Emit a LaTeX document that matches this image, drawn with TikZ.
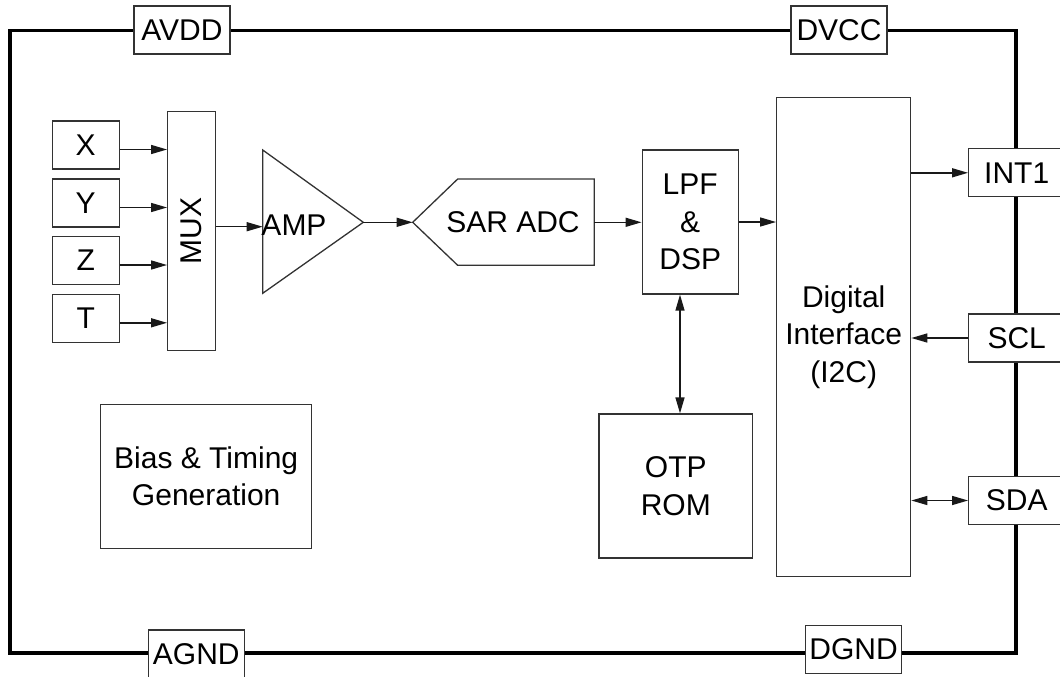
\documentclass[tikz,border=0pt]{standalone}
\usepackage{fontspec}
\setmainfont{Liberation Sans}
\usetikzlibrary{arrows.meta,calc}
\begin{document}
\begin{tikzpicture}[x=1pt,y=-1pt,
  box/.style={draw=black!80, line width=1.3pt, fill=white, inner sep=0pt,
    align=center, font=\fontsize{30}{37.5}\selectfont},
  lbl/.style={inner sep=0pt, align=center, font=\fontsize{30}{37.5}\selectfont},
  shp/.style={draw=black!80, line width=1.3pt, fill=white},
  tip/.style={Triangle[length=16pt,width=9pt]},
  arr/.style={draw=black!90, line width=1.4pt, -{Triangle[length=16pt,width=9pt]}},
  darr/.style={draw=black!90, line width=1.4pt, {Triangle[length=16pt,width=9pt]}-{Triangle[length=16pt,width=9pt]}},
  pin/.style={box, minimum width=96pt, minimum height=48pt}]
\useasboundingbox (0,0) rectangle (1060,677);
\clip (0,0) rectangle (1060,677);
% outer border
\draw[line width=3.2pt, line join=miter] (10,30.5) rectangle (1016,653);
% pins
\node[pin] (AVDD) at (182,30) {AVDD};
\node[pin] (DVCC) at (839,30) {DVCC};
\node[pin] (AGND) at (196.3,654) {AGND};
\node[pin] (DGND) at (853.5,649.5) {DGND};
\node[pin] (INT1) at (1016.7,172.8) {INT1};
\node[pin] (SCL) at (1016.7,338) {SCL};
\node[pin] (SDA) at (1016.7,500.5) {SDA};
% inputs
\node[box, minimum width=67pt, minimum height=48pt] (X) at (85.7,145) {X};
\node[box, minimum width=67pt, minimum height=48pt] (Y) at (85.7,203) {Y};
\node[box, minimum width=67pt, minimum height=48pt] (Z) at (85.7,260.5) {Z};
\node[box, minimum width=67pt, minimum height=48pt] (T) at (85.7,318.3) {T};
\node[box, minimum width=48pt, minimum height=239pt] (MUX) at (191.7,231.2) {};
\node[lbl, rotate=90] (muxt) at (MUX.center) {MUX};
% amplifier
\draw[shp] (262.7,150) -- (262.7,293.3) -- (363.3,222.3) -- cycle;
\node[lbl] (amp) at (294,225) {AMP};
\coordinate (ampL) at (262.7,226.7);
\coordinate (ampT) at (363.3,222.3);
% SAR ADC
\coordinate (sarT) at (412.7,222.3);
\coordinate (sarR) at (594.3,222.3);
\draw[shp] (sarT) -- (457.7,179) -- (594.3,179) -- (594.3,265.3) -- (457.7,265.3) -- cycle;
\node[lbl] (sar) at (513,222.3) {SAR ADC};
% blocks
\node[box, minimum width=96pt, minimum height=144pt] (LPF) at (690.2,222) {LPF\\\&\\DSP};
\node[box, minimum width=134pt, minimum height=479pt] (DI) at (843.7,337.1) {Digital\\Interface\\(I2C)};
\node[box, minimum width=153.7pt, minimum height=144pt] (OTP) at (675.8,486) {OTP\\ROM};
\node[box, minimum width=211pt, minimum height=144pt] (BIAS) at (206.2,476.3) {Bias \& Timing\\Generation};
% connectors
\foreach \n in {X,Y,Z,T}
  \draw[arr] ([yshift=-4.5pt]\n.east) -- ([yshift=-4.5pt]\n.east -| MUX.west);
\draw[arr] (MUX.east |- ampL) -- (ampL);
\draw[arr] (ampT) -- (sarT);
\draw[arr] (sarR) -- (sarR -| LPF.west);
\draw[arr] (LPF.east) -- (LPF.east -| DI.west);
\coordinate (lo) at (680,0);
\draw[darr] (LPF.south -| lo) -- (OTP.north -| lo);
\draw[arr] (DI.east |- INT1.west) -- (INT1.west);
\draw[arr] (SCL.west) -- (SCL.west -| DI.east);
\draw[darr] (SDA.west -| DI.east) -- (SDA.west);
\end{tikzpicture}
\end{document}
